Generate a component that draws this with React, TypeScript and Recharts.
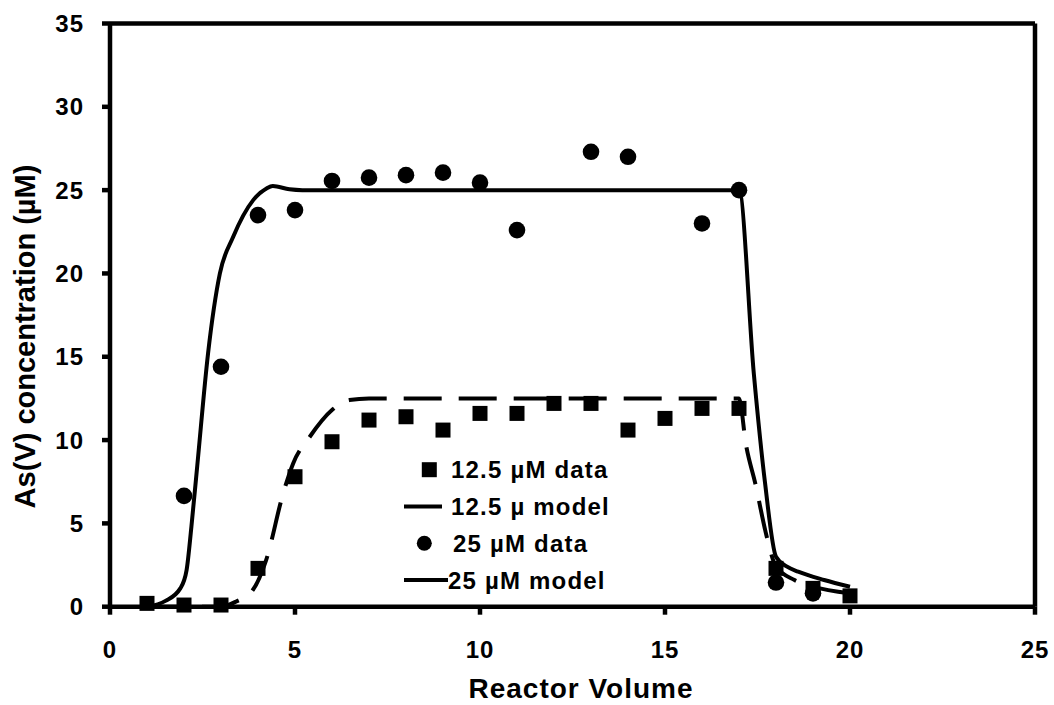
import React from 'react';
import { ComposedChart, Line, Scatter, XAxis, YAxis, ReferenceLine, Legend, Label } from 'recharts';

// ---- data ----
const xTicks = [0, 5, 10, 15, 20, 25];
const yTicks = [0, 5, 10, 15, 20, 25, 30, 35];

const vol125Data = [1, 2, 3, 4, 5, 6, 7, 8, 9, 10, 11, 12, 13, 14, 15, 16, 17, 18, 19, 20];
const conc125Data = [0.2, 0.1, 0.1, 2.3, 7.8, 9.9, 11.2, 11.4, 10.6, 11.6, 11.6, 12.2, 12.2, 10.6, 11.3, 11.9, 11.9, 2.3, 1.1, 0.65];

const vol25Data = [2, 3, 4, 5, 6, 7, 8, 9, 10, 11, 13, 14, 16, 17, 18, 19];
const conc25Data = [6.65, 14.4, 23.5, 23.8, 25.55, 25.75, 25.9, 26.05, 25.45, 22.6, 27.3, 27.0, 23.0, 25.0, 1.45, 0.8];

const vol125Model = [1, 3, 3.4, 3.86, 4.22, 4.68, 4.95, 5.4, 6.0, 6.47, 7, 17, 17.19, 17.44, 17.75, 18, 18.5, 19, 20];
const conc125Model = [0, 0, 0.3, 1.0, 2.8, 6.8, 8.6, 10.2, 11.8, 12.4, 12.5, 12.5, 9.7, 7.4, 4.2, 2.4, 1.6, 1.2, 0.8];

const vol25Model = [1, 1.5, 1.9, 2.07, 2.2, 2.36, 2.65, 2.97, 3.33, 3.87, 4.23, 4.4, 4.85, 5.2, 17, 17.4, 17.7, 18, 18.3, 18.6, 19.3, 20];
const conc25Model = [0, 0.35, 1.1, 2.2, 4.8, 8.5, 15.2, 20.0, 22.2, 24.4, 25.1, 25.25, 25.05, 25.0, 25.0, 14.0, 7.5, 3.0, 2.4, 2.1, 1.6, 1.2];

const seriesNames = ['12.5 µM data', '12.5 µ model', '25 µM data', '25 µM model'];
const xTitle = 'Reactor Volume';
const yTitle = 'As(V) concentration (µM)';

const zip = (xs: number[], ys: number[]) => xs.map((x, i) => ({ x, y: ys[i] }));
const data125 = zip(vol125Data, conc125Data);
const data25 = zip(vol25Data, conc25Data);
const model125 = zip(vol125Model, conc125Model);
const model25 = zip(vol25Model, conc25Model);

const FONT = '"Liberation Sans", Arial, sans-serif';
const SQ = 15;
const CR = 8.3;

const SquareShape = (p: any) => (
  <rect x={p.cx - SQ / 2} y={p.cy - SQ / 2} width={SQ} height={SQ} fill="#000" />
);
const CircleShape = (p: any) => <circle cx={p.cx} cy={p.cy} r={CR} fill="#000" />;

const YTitle = (props: any) => {
  const vb = props.viewBox || { x: 0, y: 0, width: 0, height: 0 };
  const bx = vb.x + 35;
  const cy = 336.5;
  return (
    <text
      x={bx}
      y={cy}
      transform={`rotate(-90 ${bx} ${cy})`}
      textAnchor="middle"
      fontFamily={FONT}
      fontWeight="bold"
      fontSize={29}
      fill="#000"
    >
      {yTitle}
    </text>
  );
};

const XTitle = () => {
  return (
    <text x={581} y={698} textAnchor="middle" fontFamily={FONT} fontWeight="bold" fontSize={28} letterSpacing={1} fill="#000">
      {xTitle}
    </text>
  );
};

const LegendBox = () => {
  const rowY = [21.7, 58.5, 95.3, 132];
  const fs = 24;
  const textX = [51, 51, 53, 48];
  return (
    <svg width={260} height={160} style={{ overflow: 'visible', display: 'block' }}>
      <rect x={29.3 - SQ / 2} y={rowY[0] - SQ / 2} width={SQ} height={SQ} fill="#000" />
      <line x1={4} x2={42} y1={rowY[1]} y2={rowY[1]} stroke="#000" strokeWidth={4} />
      <circle cx={24.3} cy={rowY[2]} r={7.5} fill="#000" />
      <line x1={4} x2={48} y1={rowY[3]} y2={rowY[3]} stroke="#000" strokeWidth={4} />
      {seriesNames.map((n, i) => (
        <text key={n} x={textX[i]} y={rowY[i] + 0.358 * fs} fontFamily={FONT} fontWeight="bold" fontSize={fs} letterSpacing={1.2} fill="#000">
          {n}
        </text>
      ))}
    </svg>
  );
};

const tickStyle = { fill: '#000', fontSize: 24, fontWeight: 'bold', fontFamily: FONT, letterSpacing: 1 };

export default function App() {
  return (
    <div style={{ position: 'absolute', left: 0, top: 0, width: 1054, height: 705, background: '#fff' }}>
      <ComposedChart width={1054} height={705} margin={{ top: 23.5, right: 19, left: 0, bottom: 0 }}>
        <XAxis
          type="number"
          dataKey="x"
          domain={[0, 25]}
          ticks={xTicks}
          interval={0}
          height={98.3}
          tickSize={8}
          tickMargin={26}
          axisLine={{ stroke: '#000', strokeWidth: 4.5 }}
          tickLine={{ stroke: '#000', strokeWidth: 4.5 }}
          tick={tickStyle}
        >
          <Label content={XTitle} />
        </XAxis>
        <YAxis
          type="number"
          dataKey="y"
          domain={[0, 35]}
          ticks={yTicks}
          interval={0}
          width={110}
          tickSize={8}
          tickMargin={18}
          axisLine={{ stroke: '#000', strokeWidth: 4.5 }}
          tickLine={{ stroke: '#000', strokeWidth: 4.5 }}
          tick={tickStyle}
        >
          <Label content={YTitle} />
        </YAxis>
        <ReferenceLine y={35} stroke="#000" strokeWidth={4.5} />
        <ReferenceLine x={25} stroke="#000" strokeWidth={4.5} />
        <Line
          data={model125}
          dataKey="y"
          name={seriesNames[1]}
          type="monotone"
          stroke="#000"
          strokeWidth={4}
          strokeDasharray="38 17"
          dot={false}
          isAnimationActive={false}
        />
        <Line
          data={model25}
          dataKey="y"
          name={seriesNames[3]}
          type="monotone"
          stroke="#000"
          strokeWidth={4}
          dot={false}
          isAnimationActive={false}
        />
        <Scatter data={data125} dataKey="y" name={seriesNames[0]} shape={SquareShape} isAnimationActive={false} />
        <Scatter data={data25} dataKey="y" name={seriesNames[2]} shape={CircleShape} isAnimationActive={false} />
        <Legend
          layout="vertical"
          align="center"
          verticalAlign="middle"
          wrapperStyle={{ position: 'absolute', left: 400, top: 448, width: 260, height: 160 }}
          content={() => <LegendBox />}
        />
      </ComposedChart>
    </div>
  );
}
